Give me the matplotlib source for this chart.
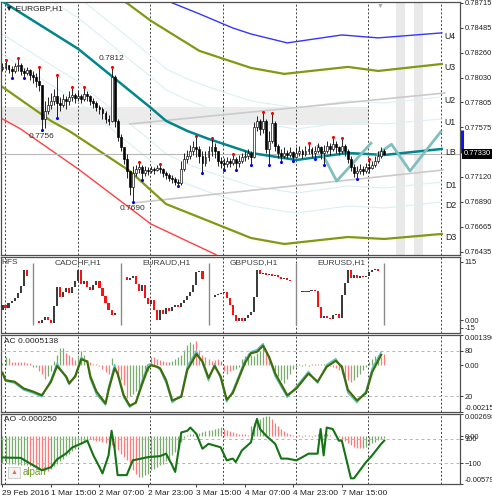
import numpy as np
import matplotlib
matplotlib.use("Agg")
import matplotlib.pyplot as plt
import matplotlib.transforms as mtransforms
from matplotlib.patches import Rectangle

plt.rcParams['font.family'] = ['Liberation Sans', 'DejaVu Sans']
plt.rcParams['font.size'] = 6

# ---------------- EURGBP H1 candles (bar 0 = 29 Feb 2016 23:00) ----------------
first_open = 0.7811
closes = [
    0.7813, 0.7815, 0.7811, 0.7809, 0.7814, 0.7815, 0.7809, 0.7807, 0.7810, 0.7805,
    0.7804, 0.7800, 0.7796, 0.7765, 0.7772, 0.7778, 0.7782, 0.7786, 0.7780, 0.7778,
    0.7783, 0.7782, 0.7785, 0.7787, 0.7784, 0.7786, 0.7783, 0.7788, 0.7786, 0.7782,
    0.7780, 0.7776, 0.7774, 0.7771, 0.7765, 0.7763, 0.7804, 0.7763, 0.7749, 0.7739,
    0.7728, 0.7717, 0.7703, 0.7716, 0.7719, 0.7721, 0.7716, 0.7718, 0.7717, 0.7719,
    0.7718, 0.7720, 0.7719, 0.7716, 0.7714, 0.7711, 0.7710, 0.7707, 0.7706, 0.7719,
    0.7728, 0.7731, 0.7736, 0.7739, 0.7738, 0.7731, 0.7725, 0.7730, 0.7736, 0.7739,
    0.7736, 0.7727, 0.7725, 0.7724, 0.7727, 0.7725, 0.7728, 0.7725, 0.7727, 0.7730,
    0.7731, 0.7734, 0.7730, 0.7758, 0.7763, 0.7756, 0.7763, 0.7738, 0.7745, 0.7761,
    0.7740, 0.7734, 0.7731, 0.7734, 0.7732, 0.7735, 0.7730, 0.7734, 0.7736, 0.7733,
    0.7736, 0.7738, 0.7734, 0.7736, 0.7739, 0.7734, 0.7736, 0.7740, 0.7738, 0.7742,
    0.7739, 0.7736, 0.7740, 0.7736, 0.7728, 0.7721, 0.7716, 0.7717, 0.7719, 0.7717,
    0.7721, 0.7720, 0.7723, 0.7727, 0.7731, 0.7736, 0.7733]
highs = [
    0.7816, 0.7818, 0.7815, 0.7814, 0.7816, 0.7820, 0.7816, 0.7812, 0.7813, 0.7811,
    0.7809, 0.7807, 0.7812, 0.7796, 0.7782, 0.7785, 0.7789, 0.7793, 0.7805, 0.7785,
    0.7788, 0.7786, 0.7791, 0.7794, 0.7789, 0.7791, 0.7788, 0.7794, 0.7791, 0.7787,
    0.7784, 0.7782, 0.7778, 0.7776, 0.7772, 0.7769, 0.7812, 0.7805, 0.7765, 0.7751,
    0.7739, 0.7733, 0.7717, 0.7722, 0.7723, 0.7725, 0.7723, 0.7722, 0.7721, 0.7722,
    0.7721, 0.7723, 0.7723, 0.7720, 0.7717, 0.7716, 0.7714, 0.7712, 0.7710, 0.7727,
    0.7734, 0.7737, 0.7741, 0.7745, 0.7749, 0.7740, 0.7736, 0.7736, 0.7740, 0.7747,
    0.7743, 0.7736, 0.7730, 0.7729, 0.7730, 0.7729, 0.7732, 0.7730, 0.7732, 0.7734,
    0.7736, 0.7738, 0.7736, 0.7762, 0.7768, 0.7765, 0.7771, 0.7765, 0.7754, 0.7770,
    0.7763, 0.7742, 0.7738, 0.7739, 0.7737, 0.7739, 0.7736, 0.7739, 0.7740, 0.7738,
    0.7740, 0.7742, 0.7739, 0.7740, 0.7743, 0.7740, 0.7741, 0.7745, 0.7743, 0.7748,
    0.7745, 0.7740, 0.7747, 0.7742, 0.7738, 0.7731, 0.7724, 0.7722, 0.7724, 0.7722,
    0.7725, 0.7728, 0.7727, 0.7731, 0.7736, 0.7739, 0.7738]
lows = [
    0.7809, 0.7810, 0.7807, 0.7803, 0.7807, 0.7809, 0.7805, 0.7803, 0.7805, 0.7801,
    0.7798, 0.7794, 0.7791, 0.7756, 0.7757, 0.7770, 0.7774, 0.7778, 0.7767, 0.7772,
    0.7776, 0.7774, 0.7778, 0.7782, 0.7780, 0.7782, 0.7780, 0.7782, 0.7782, 0.7778,
    0.7775, 0.7772, 0.7770, 0.7765, 0.7761, 0.7760, 0.7762, 0.7758, 0.7745, 0.7736,
    0.7724, 0.7711, 0.7695, 0.7690, 0.7713, 0.7716, 0.7710, 0.7713, 0.7714, 0.7716,
    0.7715, 0.7717, 0.7716, 0.7712, 0.7710, 0.7708, 0.7706, 0.7705, 0.7704, 0.7705,
    0.7717, 0.7725, 0.7728, 0.7732, 0.7730, 0.7725, 0.7716, 0.7722, 0.7727, 0.7731,
    0.7729, 0.7722, 0.7720, 0.7719, 0.7721, 0.7721, 0.7723, 0.7719, 0.7721, 0.7725,
    0.7727, 0.7728, 0.7724, 0.7729, 0.7754, 0.7750, 0.7752, 0.7734, 0.7724, 0.7743,
    0.7736, 0.7729, 0.7726, 0.7729, 0.7729, 0.7730, 0.7727, 0.7729, 0.7731, 0.7729,
    0.7731, 0.7733, 0.7730, 0.7729, 0.7734, 0.7728, 0.7724, 0.7734, 0.7732, 0.7736,
    0.7734, 0.7732, 0.7734, 0.7731, 0.7725, 0.7717, 0.7712, 0.7711, 0.7715, 0.7714,
    0.7716, 0.7716, 0.7719, 0.7721, 0.7725, 0.7729, 0.7732]
up_fractals = [1, 5, 12, 18, 23, 27, 36, 45, 52, 64, 69, 76, 86, 89, 101, 109, 112, 121]
down_fractals = [3, 7, 13, 18, 43, 46, 58, 66, 73, 77, 82, 88, 92, 96, 103, 106, 117]
swing_marks = [(36, "high"), (13, "low"), (43, "low")]

# channel / band lines (bar position, price)
lb_x = [0, 25, 49, 54, 61, 68, 82, 97, 114, 126, 145]
lb_y = [0.78728, 0.78293, 0.77752, 0.77633, 0.77541, 0.77468, 0.77339, 0.77275, 0.77339, 0.77321, 0.77376]
u2_y = [0.79205, 0.78770, 0.78229, 0.78109, 0.78018, 0.77944, 0.77816, 0.77752, 0.77816, 0.77798, 0.77853]
u1_y = [0.79013, 0.78577, 0.78036, 0.77917, 0.77825, 0.77752, 0.77623, 0.77559, 0.77623, 0.77605, 0.77651]
d1_y = [0.78426, 0.77990, 0.77449, 0.77330, 0.77238, 0.77165, 0.77037, 0.76972, 0.77037, 0.77018, 0.77073]
d2_y = [0.78242, 0.77807, 0.77266, 0.77147, 0.77055, 0.76981, 0.76853, 0.76789, 0.76853, 0.76835, 0.76890]
u4_x = [52, 56, 65, 76, 82, 94, 112, 124, 145]
u4_y = [0.78788, 0.78715, 0.78614, 0.78485, 0.78430, 0.78348, 0.78421, 0.78394, 0.78440]
u3_x = [36, 41, 49, 65, 82, 93, 114, 124, 145]
u3_y = [0.78797, 0.78715, 0.78550, 0.78275, 0.78119, 0.78064, 0.78128, 0.78091, 0.78155]
d3_x = [0, 16, 22, 42, 54, 68, 82, 93, 114, 126, 145]
d3_y = [0.77944, 0.77633, 0.77541, 0.77174, 0.76871, 0.76716, 0.76560, 0.76505, 0.76569, 0.76551, 0.76597]
d4_x = [0, 6, 25, 49, 70, 75]
d4_y = [0.77651, 0.77559, 0.77192, 0.76688, 0.76413, 0.76330]
chan_up_x, chan_up_y = [42, 146], [0.77605, 0.77889]
chan_dn_x, chan_dn_y = [43, 145.4], [0.76881, 0.77183]
zz1_x, zz1_y = [104.2, 110.3, 121.6], [0.77403, 0.77082, 0.77428]
zz2_x, zz2_y = [123.9, 128.4, 134.5, 144.6], [0.77330, 0.77419, 0.77174, 0.77532]
zone_x, zone_lo, zone_hi = [-0.5, 121], 0.7760, 0.7776
shade_spans = [(129.9, 132.8), (135.8, 138.8)]
day_range_bar = (0.7755, 0.7734)

price_ticks = [0.78715, 0.78485, 0.78260, 0.78030, 0.77805, 0.77575,
               0.77120, 0.76890, 0.76665, 0.76435]
day_starts = [1, 25, 49, 73, 97, 121, 145]
time_ticks = [0, 16, 32, 48, 64, 80, 96, 112]
time_labels = ["29 Feb 2016", "1 Mar 15:00", "2 Mar 07:00", "2 Mar 23:00",
               "3 Mar 15:00", "4 Mar 07:00", "4 Mar 23:00", "7 Mar 15:00"]

# ---------------- mini charts of other pairs ----------------
pair_names = ["HFS", "CADCHF,H1", "EURAUD,H1", "GBPUSD,H1", "EURUSD,H1"]
pair_start = [0, 12, 41, 70, 99]
pair_open = [20, -2, 85, 46, 55]
hfs_close = [30, 24, 34, 38, 44, 53, 67, 99, 87]
cadchf_close = [-6, 0, 6, 0, -6, 28, 65, 46, 55, 63, 53, 65, 77, 99, 71, 77, 65, 59,
                69, 77, 63, 48, 34, 20, 10, 14]
euraud_close = [79, 83, 87, 71, 57, 69, 44, 32, 40, 20, 0, 20, 12, 24, 18, 26, 30, 26,
                34, 40, 48, 55, 69, 95, 97, 81]
gbpusd_close = [50, 51, 53, 55, 44, 30, 10, -2, 4, -2, 4, 10, 16, 46, 99, 91, 93, 89,
                91, 87, 89, 85, 81, 83, 79, 77]
eurusd_close = [57, 55, 57, 59, 57, 26, 4, 8, 4, 2, 10, 12, 4, 50, 73, 99, 83, 89,
                83, 87, 85, 87, 95, 99, 101, 97]

# ---------------- Accelerator oscillator + stochastic ----------------
ac_vals = [
    0.00011, 0.00038, 0.00033, 0.00014, 0.00014, 0.00014, 0.00014, 0.00014, 0.00012, 0.00012,
    -0.00009, -0.00009, -0.00028, -0.00042, -0.00061, -0.00047, -0.00028, 0.00019, 0.00047, 0.00080,
    0.00080, 0.00056, 0.00047, 0.00038, 0.00023, 0.00047, 0.00066, 0.00047, 0.00023, 0.00014,
    0.00005, 0.00005, -0.00005, -0.00019, -0.00033, -0.00038, 0.00033, -0.00014, -0.00047, -0.00066,
    -0.00089, -0.00150, -0.00141, -0.00132, -0.00118, -0.00103, -0.00080, -0.00056, -0.00028, 0.00038,
    0.00038, 0.00028, 0.00023, 0.00019, 0.00014, 0.00014, 0.00019, 0.00028, 0.00038, 0.00047,
    0.00070, 0.00094, 0.00108, 0.00099, 0.00113, 0.00070, 0.00047, 0.00038, 0.00028, 0.00019,
    0.00023, 0.00028, 0.00019, -0.00028, -0.00038, -0.00028, -0.00023, -0.00019, -0.00009, 0.00028,
    0.00042, 0.00056, 0.00047, 0.00042, 0.00056, 0.00066, 0.00080, 0.00070, 0.00033, -0.00014,
    -0.00028, -0.00047, -0.00066, -0.00080, -0.00061, -0.00038, -0.00019, -0.00009, 0.00005, -0.00005,
    0.00005, -0.00005, 0.00005, 0.00005, 0.00005, 0.00005, 0.00005, 0.00005, -0.00005, -0.00009,
    -0.00014, -0.00023, -0.00038, -0.00056, -0.00066, -0.00075, -0.00066, -0.00052, -0.00038, -0.00023,
    -0.00009, 0.00014, 0.00028, 0.00042, 0.00047, 0.00038, 0.0005138]
ac_cols = ("ggrrrrrrrr" "ggrrrggggg" "grrrrgggrr" "rrrrrrgrrr" "rrgggggggg" "rrrrrggggg"
           "ggggrrrrrr" "rrgrrrgggg" "gggggggrrr" "ggggggggrg" "ggrgrggrrr" "rrrrrrgggg" "gggggrr")
stoch_x = [0, 1, 4, 7, 10, 13, 16, 18, 21, 22, 24, 26, 28, 29, 31, 34, 35, 37, 38, 40,
           42, 44, 46, 48, 49, 51, 52, 54, 56, 59, 61, 64, 66, 68, 70, 72, 74, 76, 80, 82,
           84, 86, 88, 90, 94, 97, 101, 104, 107, 110, 112, 114, 117, 120, 122, 125]
stoch_main = [51, 41, 39, 30, 26, 21, 39, 60, 46, 37, 46, 69, 66, 46, 26, 10, 28, 57, 50, 21,
              7, 11, 35, 57, 61, 59, 57, 41, 14, 19, 55, 76, 66, 44, 60, 46, 15, 24, 64, 77,
              79, 87, 72, 50, 21, 30, 50, 39, 59, 67, 59, 28, 14, 24, 52, 75]
stoch_signal = [50, 40, 37, 28, 24, 19, 42, 64, 44, 35, 48, 72, 64, 42, 22, 8, 32, 62, 48, 18,
                5, 12, 40, 62, 63, 58, 55, 37, 11, 21, 60, 80, 64, 40, 63, 43, 12, 27, 68, 79,
                82, 90, 70, 46, 18, 33, 53, 37, 62, 70, 57, 24, 11, 27, 57, 79]

# ---------------- Awesome oscillator + CCI ----------------
ao_vals = [
    -0.00324, -0.00324, -0.00336, -0.00336, -0.00336, -0.00348, -0.00348, -0.00348, -0.00348, -0.00360,
    -0.00372, -0.00384, -0.00396, -0.00408, -0.00420, -0.00420, -0.00396, -0.00360, -0.00336, -0.00300,
    -0.00276, -0.00240, -0.00216, -0.00180, -0.00156, -0.00120, -0.00096, -0.00060, -0.00048, -0.00036,
    -0.00048, -0.00060, -0.00060, -0.00072, -0.00084, -0.00084, -0.00108, -0.00132, -0.00168, -0.00216,
    -0.00252, -0.00288, -0.00348, -0.00408, -0.00456, -0.00492, -0.00492, -0.00468, -0.00456, -0.00408,
    -0.00396, -0.00372, -0.00348, -0.00336, -0.00300, -0.00276, -0.00228, -0.00192, -0.00132, -0.00072,
    -0.00024, 0.00012, 0.00024, 0.00024, 0.00036, 0.00036, 0.00048, 0.00060, 0.00072, 0.00072,
    0.00084, 0.00096, 0.00108, 0.00084, 0.00072, 0.00060, 0.00048, 0.00036, 0.00024, 0.00024,
    0.00024, 0.00012, 0.00120, 0.00156, 0.00180, 0.00204, 0.00228, 0.00240, 0.00240, 0.00204,
    0.00156, 0.00120, 0.00084, 0.00060, 0.00036, 0.00024, 0.00012, -0.00012, 0.00012, -0.00012,
    0.00012, 0.00012, -0.00012, 0.00012, 0.00024, 0.00024, 0.00024, 0.00024, 0.00012, 0.00006,
    -0.00006, -0.00012, -0.00036, -0.00060, -0.00084, -0.00108, -0.00132, -0.00144, -0.00144, -0.00144,
    -0.00132, -0.00108, -0.00084, -0.00072, -0.00048, -0.00036, -0.00025]
ao_cols = ("gggggggggr" "rrrrrrgggg" "gggggggggr" "rrrrrrrrrr" "rrrrrrgggg" "gggggggggg"
           "gggggggggg" "gggrrrrrrr" "rrgggggggr" "rrrrrrrrgr" "grrgggggrr" "rrrrrrrrrg" "ggggggg")
cci_x = [0, 1, 6, 9, 13, 16, 18, 21, 23, 26, 28, 30, 32, 33, 35, 36, 37, 38, 41, 43,
         48, 52, 54, 56, 57, 59, 61, 62, 64, 66, 68, 72, 74, 76, 77, 79, 82, 83, 84, 85,
         87, 90, 92, 94, 97, 99, 101, 104, 105, 106, 107, 109, 111, 112, 115, 116, 118, 120,
         122, 125, 126]
cci_vals = [-52, -54, -56, -100, -156, -132, -68, -20, 28, 60, 84, -36, -130, -182, -36, 164,
            18, -196, -196, -76, -50, -42, -22, -116, -170, 150, 164, 190, 138, 18, 58, 30,
            -76, -62, -90, 4, 70, 178, 260, 178, 124, 58, -62, -62, -76, -50, -22, -22, 178,
            -36, 190, 178, 84, 84, -222, -222, -156, -90, -36, 58, 84]

# ---------------- layout ----------------
W, H = 492, 500
FRAME = '#505050'
GREEN_BAR, RED_BAR = '#79aa6e', '#ff7b7b'
TICK_KW = dict(axis='y', length=2, width=0.6, pad=1.2, labelsize=5.4, colors='#202020')


def box(top, bottom):
    return [1 / W, 1 - bottom / H, 459 / W, (bottom - top) / H]


fig = plt.figure(figsize=(W / 100, H / 100), dpi=100)
fig.patch.set_facecolor('white')
ax = fig.add_axes(box(2, 255))
ax_p = fig.add_axes(box(257, 333), sharex=ax)
ax_ac = fig.add_axes(box(335, 412), sharex=ax)
ax_ao = fig.add_axes(box(414, 484), sharex=ax)
ax.set_xlim(-0.495, 151.0)

for a in (ax, ax_p, ax_ac, ax_ao):
    for s in a.spines.values():
        s.set_color(FRAME)
        s.set_linewidth(0.9)
    a.tick_params(axis='x', bottom=False, labelbottom=False)
    for d in day_starts:
        a.axvline(d - 0.2, color='#404040', lw=0.7, ls=(0, (2, 2)), zorder=1)

# ---------------- main chart ----------------
ax.set_ylim(0.76404, 0.78723)
for a0, a1 in shade_spans:
    ax.axvspan(a0, a1, color='#e9e9e9', lw=0, zorder=0)
ax.fill_between(zone_x, zone_lo, zone_hi, color='#ececec', lw=0, zorder=0)

faint = '#dcf0f3'
for yy in (u2_y, u1_y, d1_y, d2_y):
    ax.plot(lb_x, yy, color=faint, lw=0.8, zorder=1)
ax.plot(chan_up_x, chan_up_y, color='#cacaca', lw=1.2, zorder=1)
ax.plot(chan_dn_x, chan_dn_y, color='#cacaca', lw=1.2, zorder=1)
ax.plot(u4_x, u4_y, color='#3535ff', lw=1.0, zorder=2)
ax.plot(u3_x, u3_y, color='#7f9a12', lw=1.6, zorder=2)
ax.plot(d3_x, d3_y, color='#7f9a12', lw=1.6, zorder=2)
ax.plot(d4_x, d4_y, color='#ff4040', lw=1.0, zorder=2)
ax.plot(lb_x, lb_y, color='#00868b', lw=1.8, zorder=3)
ax.plot(zz1_x, zz1_y, color='#7fbfbf', lw=2.0, zorder=3)
ax.plot(zz2_x, zz2_y, color='#7fbfbf', lw=2.0, zorder=3)
ax.axhline(closes[-1], color='#b8b8b8', lw=0.8, zorder=2)

x = np.arange(len(closes))
c = np.array(closes)
o = np.array([first_open] + closes[:-1])
hi = np.maximum(np.array(highs), np.maximum(o, c))
lo = np.minimum(np.array(lows), np.minimum(o, c))
bull = c >= o
ax.vlines(x, lo, hi, color='black', lw=0.6, zorder=4)
ax.bar(x, np.maximum(np.abs(c - o), 0.00003), bottom=np.minimum(o, c), width=0.62,
       color=np.where(bull, 'white', 'black'), edgecolor='black', linewidth=0.45, zorder=5)
ax.scatter(up_fractals, hi[up_fractals] + 0.00008, s=5, color='#ff0000', lw=0, zorder=6)
ax.scatter(down_fractals, lo[down_fractals] - 0.00008, s=5, color='#0000ff', lw=0, zorder=6)
for i, kind in swing_marks:
    if kind == "high":
        ax.annotate(f"{hi[i]:.4f}", (i, hi[i]), xytext=(0, 4), textcoords='offset points',
                    ha='center', va='bottom', fontsize=6, color='#303030')
    else:
        ax.annotate(f"{lo[i]:.4f}", (i, lo[i]), xytext=(0, -3), textcoords='offset points',
                    ha='center', va='top', fontsize=6, color='#303030')

band_labels = [("U4", u4_y), ("U3", u3_y), ("U2", u2_y), ("U1", u1_y), ("LB", lb_y),
               ("D1", d1_y), ("D2", d2_y), ("D3", d3_y)]
for name, yy in band_labels:
    ax.annotate(name, (146.0, yy[-1]), xytext=(0, -2.5), textcoords='offset points',
                ha='left', va='center', fontsize=6.3, color='#202020')

ax.yaxis.tick_right()
ax.tick_params(**TICK_KW)
ax.set_yticks(price_ticks)
ax.set_yticklabels([f"{v:.5f}" for v in price_ticks])
blend = mtransforms.blended_transform_factory(ax.transAxes, ax.transData)
ax.text(1.0075, closes[-1], f"{closes[-1]:.5f}", transform=blend, ha='left', va='center',
        fontsize=5.4, color='white',
        bbox=dict(facecolor='black', edgecolor='none', pad=1.0))
ax.plot([1.004, 1.004], day_range_bar, transform=blend, color='#1010ff', lw=2.2,
        clip_on=False, solid_capstyle='butt')
ax.text(0.008, 0.975, "\u25bc EURGBP,H1", transform=ax.transAxes, ha='left', va='center',
        fontsize=6, color='#202020')
ax.text(124.6, 0.995, "\u25bc", transform=mtransforms.blended_transform_factory(ax.transData, ax.transAxes),
        ha='center', va='top', fontsize=5, color='#a8a8a8')

# ---------------- pairs panel ----------------
ax_p.set_ylim(-25.7, 124.7)
pair_closes = [hfs_close, cadchf_close, euraud_close, gbpusd_close, eurusd_close]
for k, (name, start, op, cl) in enumerate(zip(pair_names, pair_start, pair_open, pair_closes)):
    px = np.arange(start, start + len(cl))
    pc = np.array(cl, dtype=float)
    po = np.array([op] + cl[:-1], dtype=float)
    up = pc >= po
    ax_p.bar(px, np.maximum(np.abs(pc - po), 1.5), bottom=np.minimum(po, pc), width=0.7,
             color=np.where(up, '#3c3c3c', '#ff1010'), lw=0, zorder=3)
    if k == 0:
        ax_p.text(start - 0.3, 113, name, ha='left', va='center', fontsize=6, color='#404040')
    else:
        ax_p.text(start + len(cl) / 2, 113, name, ha='center', va='center', fontsize=6,
                  color='#404040')
        ax_p.vlines(start - 2, -10, 113, color='#8a8a8a', lw=1.0, zorder=2)
    if k == len(pair_names) - 1:
        ax_p.vlines(start + len(cl) + 1, -10, 113, color='#8a8a8a', lw=1.0, zorder=2)
ax_p.yaxis.tick_right()
ax_p.tick_params(**TICK_KW)
ax_p.set_yticks([115, 0, -15])
ax_p.set_yticklabels(["115", "0.00", "-15"])

# ---------------- AC + stochastic panel ----------------
ax_ac.set_ylim(-0.00215, 0.001396)
ax_ac.vlines(x, 0, ac_vals, colors=[GREEN_BAR if ch == 'g' else RED_BAR for ch in ac_cols],
             lw=0.9, zorder=2)
ax_ac.text(0.006, 0.915, f"AC {ac_vals[-1]:.7f}", transform=ax_ac.transAxes,
           ha='left', va='center', fontsize=6, color='#202020')
ax_st = ax_ac.twinx()
ax_st.set_ylim(-1.3, 101.3)
for s in ax_st.spines.values():
    s.set_visible(False)
for lvl in (80, 20):
    ax_st.axhline(lvl, color='#b5b5b5', lw=0.7, ls=(0, (3, 3)), zorder=1)
ax_st.plot(stoch_x, stoch_signal, color='#5cc6c6', lw=1.0, zorder=3)
ax_st.plot(stoch_x, stoch_main, color='#3f6d08', lw=1.6, zorder=4)
ax_st.set_yticks([80, 20])
ax_st.tick_params(**TICK_KW)
# twinx moves the host ticks to the left; put them back on the right
ax_ac.yaxis.tick_right()
ax_ac.tick_params(**TICK_KW)
ax_ac.set_yticks([0.001396, 0.0, -0.00215])
lab = ax_ac.set_yticklabels(["0.001396", "0.00", "-0.002150"])
lab[0].set_va('top')
lab[2].set_va('bottom')

# ---------------- AO + CCI panel ----------------
ax_ao.set_ylim(-0.005793, 0.002698)
ax_ao.vlines(x, 0, ao_vals, colors=[GREEN_BAR if ch == 'g' else RED_BAR for ch in ao_cols],
             lw=0.9, zorder=2)
ax_ao.text(0.006, 0.915, f"AO {ao_vals[-1]:.6f}", transform=ax_ao.transAxes,
           ha='left', va='center', fontsize=6, color='#202020')
ax_ao.add_patch(Rectangle((0.016, 0.08), 0.026, 0.17, transform=ax_ao.transAxes,
                          facecolor='#f4f4f4', edgecolor='#c8c8c8', lw=0.6, zorder=5))
ax_ao.text(0.029, 0.165, "\u25b2", transform=ax_ao.transAxes, ha='center', va='center',
           fontsize=5, color='#e07050', zorder=6)
ax_ao.text(0.048, 0.165, "alpari", transform=ax_ao.transAxes, ha='left', va='center',
           fontsize=7, color='#6f9a2c', zorder=6)
ax_cci = ax_ao.twinx()
ax_cci.set_ylim(-268, 300)
for s in ax_cci.spines.values():
    s.set_visible(False)
for lvl in (100, -100):
    ax_cci.axhline(lvl, color='#b5b5b5', lw=0.7, ls=(0, (3, 3)), zorder=1)
ax_cci.plot(cci_x, cci_vals, color='#147314', lw=1.5, zorder=4)
ax_cci.set_yticks([100, -100])
ax_cci.tick_params(**TICK_KW)
ax_ao.yaxis.tick_right()
ax_ao.tick_params(**TICK_KW)
ax_ao.set_yticks([0.002698, 0.0, -0.005793])
lab = ax_ao.set_yticklabels(["0.002698", "0.00", "-0.005793"])
lab[0].set_va('top')
lab[2].set_va('bottom')

ax_ao.tick_params(axis='x', bottom=True, labelbottom=True, length=2.5, width=0.6,
                  pad=1.5, labelsize=6, colors='#202020')
ax_ao.set_xticks(time_ticks)
ax_ao.set_xticklabels(time_labels, ha='left')
ax.set_xlim(-0.495, 151.0)

fig.savefig("out.png", dpi=100, facecolor='white')
